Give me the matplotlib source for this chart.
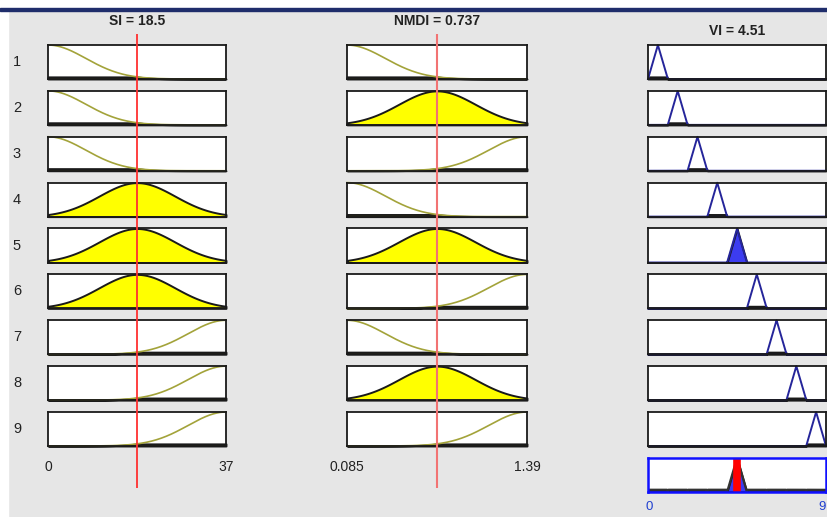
import numpy as np
import matplotlib.pyplot as plt
from matplotlib.patches import Rectangle

#Figure size in pixels
W = 828
H = 517

#Fuzzy system definition
si_range = [0, 37]
nmdi_range = [0.085, 1.39]
vi_range = [0, 9]
si_centers = [0, 18.5, 37]
nmdi_centers = [0.085, 0.7375, 1.39]
si_value = 18.5
nmdi_value = 0.737
vi_value = 4.51

#Rule table: which input MF (0=low,1=medium,2=high) each rule uses, and output triangle
rule_si = [0, 0, 0, 1, 1, 1, 2, 2, 2]
rule_nmdi = [0, 1, 2, 0, 1, 2, 0, 1, 2]
vi_tri = [[0, 0.5, 1], [1, 1.5, 2], [2, 2.5, 3], [3, 3.5, 4], [4, 4.5, 5],
          [5, 5.5, 6], [6, 6.5, 7], [7, 7.5, 8], [8, 8.5, 9]]

title_si = "SI = 18.5"
title_nmdi = "NMDI = 0.737"
title_vi = "VI = 4.51"

#Pixel layout of the three columns
col_si = (48, 226)
col_nmdi = (347, 527)
col_vi = (648, 826)
row_top = 45
row_pitch = 45.875
row_h = 34

plt.rcParams['font.family'] = ['Liberation Sans', 'DejaVu Sans']


def gauss(x, c, sigma):
    return np.exp(-(x - c) ** 2 / (2 * sigma ** 2))


def tri(x, p):
    a, b, c = p
    return np.clip(np.minimum((x - a) / (b - a), (c - x) / (c - b)), 0, 1)


def px_axes(left, top, right, bottom):
    return fig.add_axes([left / W, 1 - bottom / H, (right - left) / W, (bottom - top) / H])


def clean(ax, xr, edge='#1a1a1a'):
    ax.set_xlim(xr)
    ax.set_ylim(0, 1)
    ax.set_xticks([])
    ax.set_yticks([])
    for s in ax.spines.values():
        s.set_linewidth(1.3)
        s.set_color(edge)


si_sigma = (si_centers[1] - si_centers[0]) / 2.3548
nmdi_sigma = (nmdi_centers[1] - nmdi_centers[0]) / 2.3548

x_si = np.linspace(si_range[0], si_range[1], 400)
x_nmdi = np.linspace(nmdi_range[0], nmdi_range[1], 400)
x_vi = np.linspace(vi_range[0], vi_range[1], 1800)

#Firing strengths (min AND)
mu_si = [gauss(si_value, c, si_sigma) for c in si_centers]
mu_nmdi = [gauss(nmdi_value, c, nmdi_sigma) for c in nmdi_centers]
weights = [min(mu_si[a], mu_nmdi[b]) for a, b in zip(rule_si, rule_nmdi)]

fig = plt.figure(figsize=(W / 100, H / 100), dpi=100)
fig.patch.set_facecolor('#e6e6e6')

#White borders and dark top line
fig.add_artist(Rectangle((0, 1 - 8 / H), 1, 8 / H, transform=fig.transFigure, color='white', zorder=0))
fig.add_artist(Rectangle((0, 0), 8 / W, 1, transform=fig.transFigure, color='white', zorder=0))
fig.add_artist(Rectangle((0, 1 - 10.5 / H), 1, 2.5 / H, transform=fig.transFigure, color='#1f2d6b', zorder=0))


def input_cell(ax, x, mf, mu, xr):
    clean(ax, xr)
    clipped = np.minimum(mf, mu)
    ax.fill_between(x, 0, clipped, facecolor='yellow', edgecolor='#1a1a1a', linewidth=1.4, clip_on=False)
    if mu < 0.5:
        ax.plot(x, mf, color='#a3a33a', linewidth=1.2, clip_on=False)


agg = np.zeros_like(x_vi)
for i in range(9):
    top = row_top + i * row_pitch
    bottom = top + row_h

    ax = px_axes(col_si[0], top, col_si[1], bottom)
    c = si_centers[rule_si[i]]
    input_cell(ax, x_si, gauss(x_si, c, si_sigma), mu_si[rule_si[i]], si_range)
    if i == 8:
        ax.text(si_range[0], -0.62, "0", ha='center', va='center', fontsize=10,
                transform=ax.get_xaxis_transform(), color='#222222')
        ax.text(si_range[1], -0.62, "37", ha='center', va='center', fontsize=10,
                transform=ax.get_xaxis_transform(), color='#222222')

    ax = px_axes(col_nmdi[0], top, col_nmdi[1], bottom)
    c = nmdi_centers[rule_nmdi[i]]
    input_cell(ax, x_nmdi, gauss(x_nmdi, c, nmdi_sigma), mu_nmdi[rule_nmdi[i]], nmdi_range)
    if i == 8:
        ax.text(nmdi_range[0], -0.62, "0.085", ha='center', va='center', fontsize=10,
                transform=ax.get_xaxis_transform(), color='#222222')
        ax.text(nmdi_range[1], -0.62, "1.39", ha='center', va='center', fontsize=10,
                transform=ax.get_xaxis_transform(), color='#222222')

    ax = px_axes(col_vi[0], top, col_vi[1], bottom)
    clean(ax, vi_range)
    mf = tri(x_vi, vi_tri[i])
    clipped = np.minimum(mf, weights[i])
    agg = np.maximum(agg, clipped)
    ax.fill_between(x_vi, 0, clipped, facecolor='#3c3cf0', edgecolor='#1a1a1a', linewidth=1.4, clip_on=False)
    ax.plot(x_vi, mf, color='#25259a', linewidth=1.4, clip_on=False)

    fig.text(17 / W, 1 - (top + row_h / 2) / H, str(i + 1), ha='center', va='center',
             fontsize=10.5, color='#222222')

#Aggregated output
top = row_top + 9 * row_pitch
ax = px_axes(col_vi[0], top, col_vi[1], top + row_h)
clean(ax, vi_range, edge='#1010ff')
for s in ax.spines.values():
    s.set_linewidth(1.8)
ax.fill_between(x_vi, 0, agg, facecolor='#3c3cf0', edgecolor='#1a1a1a', linewidth=1.3)
ax.plot(x_vi, agg, color='#333333', linewidth=1.6)
ax.axvline(vi_value, color='#ff0000', linewidth=5.5)
ax.annotate("0", (vi_range[0], 0), xycoords=ax.get_xaxis_transform(), xytext=(1, -6.5),
            textcoords='offset points', ha='center', va='top', fontsize=9.5, color='#2040d0',
            annotation_clip=False)
ax.annotate("9", (vi_range[1], 0), xycoords=ax.get_xaxis_transform(), xytext=(-3, -6.5),
            textcoords='offset points', ha='center', va='top', fontsize=9.5, color='#2040d0',
            annotation_clip=False)

#Input value lines across all rules
ax = px_axes(col_si[0], 34, col_si[1], 488)
ax.set_zorder(5)
ax.set_xlim(si_range)
ax.axis('off')
ax.axvline(si_value, color='#ff3030', linewidth=1.3)

ax = px_axes(col_nmdi[0], 34, col_nmdi[1], 488)
ax.set_zorder(5)
ax.set_xlim(nmdi_range)
ax.axis('off')
ax.axvline(nmdi_value, color='#f27373', linewidth=1.5)

#Titles
fig.text(sum(col_si) / 2 / W, 1 - 21 / H, title_si, ha='center', va='center', fontsize=10,
         fontweight='bold', color='#222222')
fig.text(sum(col_nmdi) / 2 / W, 1 - 21 / H, title_nmdi, ha='center', va='center', fontsize=10,
         fontweight='bold', color='#222222')
fig.text(sum(col_vi) / 2 / W, 1 - 31 / H, title_vi, ha='center', va='center', fontsize=10,
         fontweight='bold', color='#222222')

plt.savefig("out.png", dpi=100, facecolor=fig.get_facecolor())
